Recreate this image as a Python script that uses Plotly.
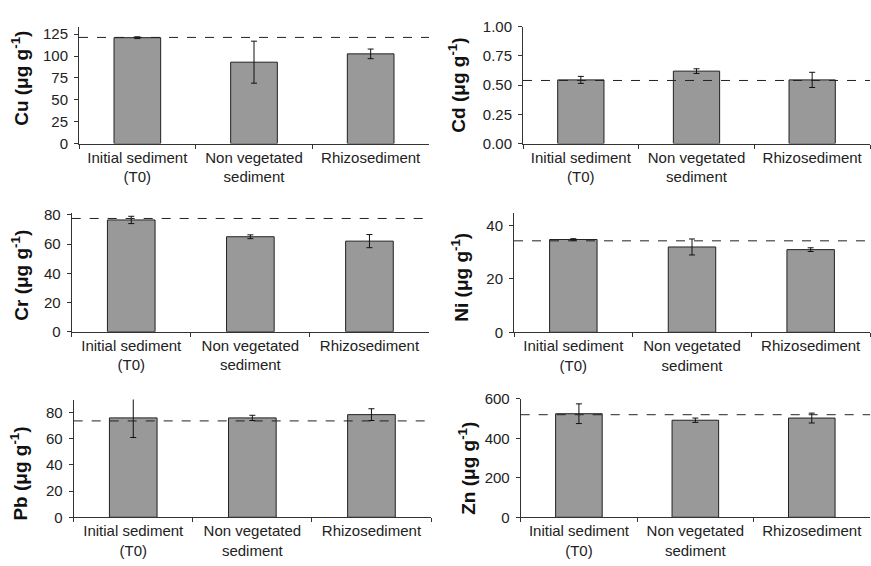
import plotly.graph_objects as go

categories = ["Initial sediment<br>(T0)", "Non vegetated<br>sediment", "Rhizosediment"]

metals = ["Cu", "Cd", "Cr", "Ni", "Pb", "Zn"]
cu_vals = [121, 93, 102.5]
cu_err = [1, 24, 5.5]
cd_vals = [0.545, 0.62, 0.545]
cd_err = [0.03, 0.02, 0.065]
cr_vals = [76.5, 65, 62]
cr_err = [2.5, 1.3, 4.5]
ni_vals = [34.8, 32, 31]
ni_err = [0.3, 3, 0.7]
pb_vals = [76, 76, 78.5]
pb_err = [15, 2, 4.5]
zn_vals = [525, 492, 503]
zn_err = [50, 11, 25]
reference_levels = [121.3, 0.54, 77.5, 34.3, 73.7, 520]

values = [cu_vals, cd_vals, cr_vals, ni_vals, pb_vals, zn_vals]
errors = [cu_err, cd_err, cr_err, ni_err, pb_err, zn_err]

y_tickvals = [
    [0, 25, 50, 75, 100, 125],
    [0, 0.25, 0.5, 0.75, 1.0],
    [0, 20, 40, 60, 80],
    [0, 20, 40],
    [0, 20, 40, 60, 80],
    [0, 200, 400, 600],
]
y_ranges = [[0, 133.5], [0, 1.0], [0, 81], [0, 44.6], [0, 90], [0, 600]]
y_formats = ["", ".2f", "", "", "", ""]

W, H = 871, 566
# pixel layout (left, right, top, bottom) of each plot area
boxes = [
    (79, 429, 18.3, 138.7),
    (523, 870, 18.3, 138.7),
    (71.7, 429, 210.7, 332.7),
    (514, 870, 210.7, 333.3),
    (73.7, 431, 402.7, 524),
    (520.7, 870, 402, 524),
]
title_pos = [(20, 72), (457, 79), (20, 275), (460, 276), (19, 479), (467, 474)]

font_family = "Liberation Sans, Arial, sans-serif"
axis_color = "#333333"

fig = go.Figure()
layout = dict(
    width=W, height=H,
    margin=dict(l=0, r=0, t=0, b=0),
    paper_bgcolor="white", plot_bgcolor="white",
    showlegend=False,
    font=dict(family=font_family, size=15, color="#222222"),
)
shapes = []
annotations = []
for i, m in enumerate(metals):
    n = "" if i == 0 else str(i + 1)
    l, r, t, b = boxes[i]
    fig.add_trace(go.Bar(
        x=categories, y=values[i],
        xaxis="x" + n, yaxis="y" + n,
        width=0.4,
        marker=dict(color="#999999", line=dict(color="#222222", width=1)),
        error_y=dict(type="data", array=errors[i], visible=True,
                     color="#111111", thickness=1, width=3),
    ))
    layout["xaxis" + n] = dict(
        domain=[l / W, r / W], anchor="y" + n,
        type="category", range=[-0.5, 2.5],
        showline=True, linecolor=axis_color, linewidth=1,
        ticks="outside", tickson="boundaries", ticklen=4, tickcolor=axis_color,
        showgrid=False, tickfont=dict(size=15, color="#222222"),
    )
    layout["yaxis" + n] = dict(
        domain=[1 - b / H, 1 - t / H], anchor="x" + n,
        range=y_ranges[i], tickvals=y_tickvals[i], tickformat=y_formats[i],
        showline=True, linecolor=axis_color, linewidth=1,
        ticks="outside", ticklen=4, tickcolor=axis_color, ticklabelstandoff=3,
        showgrid=False, zeroline=False, tickfont=dict(size=15, color="#222222"),
    )
    shapes.append(dict(
        type="line", xref=("x" + n + " domain"), yref="y" + n,
        x0=0, x1=1, y0=reference_levels[i], y1=reference_levels[i],
        line=dict(color="#222222", width=1, dash="dash"), layer="above",
    ))
    tx, ty = title_pos[i]
    annotations.append(dict(
        text="<b>" + m + " (μg g<sup>-1</sup>)</b>",
        xref="paper", yref="paper", x=tx / W, y=1 - ty / H,
        xanchor="center", yanchor="middle", textangle=-90, showarrow=False,
        font=dict(size=19, color="#111111", family=font_family),
    ))

layout["shapes"] = shapes
layout["annotations"] = annotations
fig.update_layout(**layout)
fig.write_html(
    "out.html",
    config={"displayModeBar": False},
    post_script="document.body.style.margin='0';document.body.style.overflow='hidden';",
)
